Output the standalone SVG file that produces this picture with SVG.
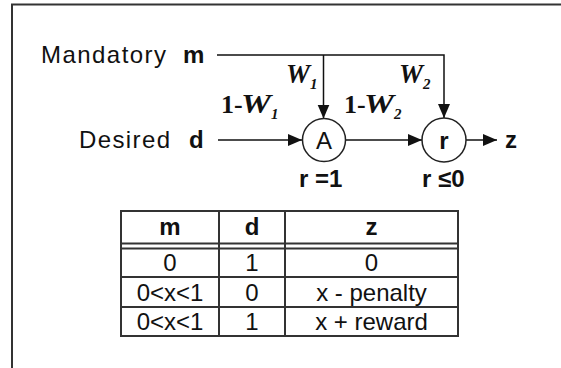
<svg xmlns="http://www.w3.org/2000/svg" width="561" height="368" viewBox="0 0 561 368">
<style>
.t{font-family:"Liberation Sans",Arial,sans-serif;font-size:24px;fill:#111}
.b{font-weight:bold}
.c{text-anchor:middle}
.w{font-family:"Liberation Serif","Times New Roman",serif;font-size:27px;font-style:italic;font-weight:bold;fill:#111}
.n{font-family:"Liberation Serif","Times New Roman",serif;font-size:26px;font-weight:bold;fill:#111}
.s{font-family:"Liberation Serif","Times New Roman",serif;font-size:15px;font-style:italic;font-weight:bold;fill:#111}
.ln{stroke:#111;stroke-width:1.5;fill:none}
.nd{fill:#fff;stroke:#222;stroke-width:1.5}
.tb{stroke:#333;stroke-width:2;fill:none}
</style>
<defs>
<marker id="ah" markerWidth="14" markerHeight="14" viewBox="0 0 14 14" refX="14" refY="7" orient="auto" markerUnits="userSpaceOnUse"><path d="M0,1 L14,7 L0,13 Z" fill="#111"/></marker>
</defs>
<rect width="561" height="368" fill="#fff"/>
<path d="M12,368 V4.5 H561" stroke="#333" stroke-width="2" fill="none"/>

<g id="inputs">
<text class="t" x="41" y="63" textLength="125" lengthAdjust="spacing">Mandatory</text>
<text class="t b" x="183" y="63">m</text>
<text class="t" x="79" y="148" textLength="91" lengthAdjust="spacing">Desired</text>
<text class="t b" x="189" y="148">d</text>
</g>

<g id="connectors">
<path class="ln" d="M217,55 H444 V118" marker-end="url(#ah)"/>
<path class="ln" d="M323.5,55 V118.5" marker-end="url(#ah)"/>
<path class="ln" d="M218,140 H302" marker-end="url(#ah)"/>
<path class="ln" d="M345.5,140 H422" marker-end="url(#ah)"/>
<path class="ln" d="M466,140 H497" marker-end="url(#ah)"/>
<text class="w" x="286" y="83">W</text><text class="s" x="310" y="89">1</text>
<text class="w" x="399" y="83">W</text><text class="s" x="423" y="89">2</text>
<text class="n" x="221" y="113">1-</text><text class="w" x="241" y="113" textLength="30" lengthAdjust="spacingAndGlyphs">W</text><text class="s" x="271" y="119">1</text>
<text class="n" x="344" y="113">1-</text><text class="w" x="364" y="113" textLength="30" lengthAdjust="spacingAndGlyphs">W</text><text class="s" x="394" y="119">2</text>
</g>

<g id="nodeA">
<circle class="nd" cx="324" cy="140" r="21.5"/>
<text class="t c" x="324" y="149">A</text>
<text class="t b" x="299" y="187">r =1</text>
</g>

<g id="nodeR">
<circle class="nd" cx="444" cy="140" r="22"/>
<text class="t b c" x="444" y="149">r</text>
<text class="t b" x="422" y="187">r ≤0</text>
</g>

<g id="output">
<text class="t b" x="505" y="148">z</text>
</g>

<g id="table">
<rect class="tb" x="121" y="211" width="337" height="125"/>
<path class="tb" d="M121,243.5 H458 M121,248.5 H458 M121,277 H458 M121,307 H458 M219,211 V336 M285,211 V336"/>
<text class="t b c" x="170" y="235">m</text>
<text class="t b c" x="252" y="235">d</text>
<text class="t b c" x="371.5" y="235">z</text>
<text class="t c" x="170" y="271">0</text>
<text class="t c" x="252" y="271">1</text>
<text class="t c" x="371.5" y="271">0</text>
<text class="t c" x="170" y="300.5">0&lt;x&lt;1</text>
<text class="t c" x="252" y="300.5">0</text>
<text class="t c" x="371.5" y="300.5">x - penalty</text>
<text class="t c" x="170" y="330">0&lt;x&lt;1</text>
<text class="t c" x="252" y="330">1</text>
<text class="t c" x="371.5" y="330">x + reward</text>
</g>
</svg>
